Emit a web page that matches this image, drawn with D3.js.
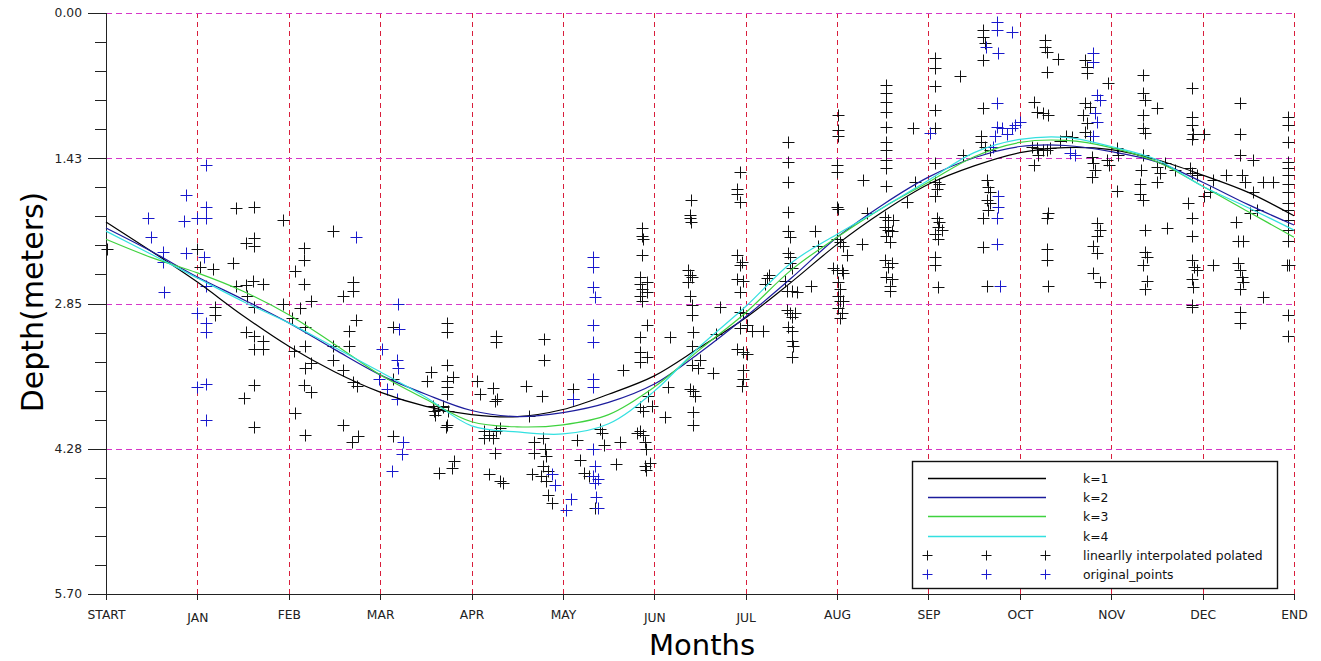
<!DOCTYPE html>
<html>
<head>
<meta charset="utf-8">
<script src="https://cdn.jsdelivr.net/npm/d3@7"></script>
<style>
    body { margin: 0; background: #fff; }
    svg { display: block; font-family: "DejaVu Sans", Verdana, sans-serif; }
</style>
</head>
<body>
<div id="chart"></div>
<script>
// Etiquetas del eje X (START, meses, END)
const monthLabels = ["START", "JAN", "FEB", "MAR", "APR", "MAY", "JUN", "JUL", "AUG", "SEP", "OCT", "NOV", "DEC", "END"];

// Marcas del eje Y (profundidad)
const yTickValues = [0, 1.425, 2.85, 4.275, 5.70];
const yTickLabels = ["0.00", "1.43", "2.85", "4.28", "5.70"];

// Curvas ajustadas, leídas cada medio mes
const curveX = [0, 0.5, 1, 1.5, 2, 2.5, 3, 3.5, 4, 4.5, 5, 5.5, 6, 6.5, 7, 7.5, 8, 8.5, 9, 9.5, 10, 10.5, 11, 11.5, 12, 12.5, 13];
const fitK1 = [2.05, 2.34, 2.64, 2.97, 3.27, 3.52, 3.72, 3.86, 3.94, 3.96, 3.89, 3.74, 3.56, 3.28, 2.99, 2.64, 2.27, 1.95, 1.68, 1.50, 1.37, 1.32, 1.34, 1.44, 1.59, 1.76, 1.99];
const fitK2 = [2.11, 2.34, 2.59, 2.81, 3.04, 3.30, 3.55, 3.74, 3.90, 3.96, 3.92, 3.82, 3.64, 3.33, 2.98, 2.60, 2.20, 1.88, 1.61, 1.42, 1.31, 1.30, 1.36, 1.46, 1.66, 1.88, 2.08];
const fitK3 = [2.22, 2.40, 2.55, 2.73, 2.96, 3.25, 3.55, 3.79, 4.01, 4.06, 4.04, 3.94, 3.67, 3.30, 2.94, 2.52, 2.20, 1.91, 1.66, 1.41, 1.27, 1.25, 1.32, 1.46, 1.70, 1.95, 2.20];
const fitK4 = [2.14, 2.37, 2.60, 2.83, 3.04, 3.28, 3.52, 3.77, 4.05, 4.11, 4.13, 4.03, 3.71, 3.27, 2.88, 2.45, 2.17, 1.91, 1.64, 1.37, 1.24, 1.22, 1.31, 1.44, 1.70, 1.91, 2.13];

// Puntos interpolados linealmente [mes, profundidad]
const interpolatedPoints = [
    [0.01,2.32],[1.42,1.91],[1.62,1.90],[1.94,2.03],[1.53,2.26],[1.62,2.21],[1.62,2.29],[1.00,2.32],[1.03,2.49],[1.17,2.51],[1.39,2.45],[1.42,2.68],[1.53,2.67],[1.61,2.63],[1.72,2.66],[1.62,2.88],[1.54,2.78],[1.19,2.88],[1.19,2.96],[1.53,3.13],[1.62,3.17],[1.72,3.22],[1.62,3.30],[1.72,3.30],[1.62,3.65],[1.51,3.78],[1.62,4.06],
    [1.94,2.85],[2.07,2.53],[2.17,2.31],[2.17,2.42],[2.17,2.66],[2.12,2.89],[2.24,2.83],[2.04,2.99],[2.18,3.08],[2.06,3.32],[2.18,3.27],[2.18,3.48],[2.24,3.43],[2.17,3.65],[2.24,3.72],[2.07,3.92],[2.18,4.14],
    [2.48,2.14],[2.70,2.64],[2.70,2.73],[2.59,2.78],[2.74,3.01],[2.66,3.12],[2.66,3.27],[2.48,3.27],[2.48,3.40],[2.59,3.50],[2.70,3.62],[2.75,3.66],[2.59,4.04],[2.76,4.15],[2.69,4.21],[3.14,4.15],[3.14,3.08],[3.14,3.59],
    [3.64,4.51],[3.79,4.46],[3.81,4.40],[3.72,4.06],[3.59,3.90],[3.69,3.86],[3.74,3.90],[4.26,3.81],[4.14,4.10],[4.19,4.14],[4.27,4.10],[4.31,4.07],[4.23,4.17],[4.14,4.17],[4.26,4.32],[4.19,4.52],[4.31,4.59],[4.34,4.61],
    [4.63,3.95],[4.68,4.21],[4.78,4.17],[4.80,4.28],[4.81,4.35],[4.68,4.32],[4.78,4.44],[4.84,4.49],[4.66,4.52],[4.76,4.54],[4.81,4.59],[4.84,4.73],[4.88,4.81],
    [5.15,4.19],[5.19,4.39],[5.23,4.51],[5.28,4.54],[5.35,4.86],[5.43,4.12],[5.45,4.24],[5.62,4.21],[5.58,4.42],
    [5.88,3.90],[5.81,4.12],[5.88,4.14],[5.90,4.21],[5.91,4.28],[5.90,4.44],[5.91,4.48],
    [3.73,3.04],[3.73,3.13],[4.27,3.17],[4.27,3.23],[4.79,3.20],[4.79,3.40],[3.56,3.52],[3.73,3.45],[3.80,3.57],[3.73,3.61],[3.73,3.67],[3.73,3.74],[3.51,3.61],[3.58,3.86],[3.63,3.89],[3.69,3.87],[3.60,3.94],[3.73,4.04],
    [4.06,3.61],[4.09,3.74],[4.23,3.68],[4.28,3.79],[4.60,3.66],[4.77,3.76],[5.11,3.69],[5.11,3.79],[5.41,4.08],[5.66,3.50],
    [5.84,3.18],[5.84,3.33],[5.84,3.42],[5.92,3.37],[5.92,3.06],[5.86,2.83],[5.84,3.87],[5.93,3.76],[5.98,3.86],[5.84,4.10],[5.95,4.41],
    [6.17,3.18],[6.15,3.67],[6.12,3.96],
    [6.41,2.86],[6.41,2.96],[6.42,3.13],[6.41,3.45],[6.42,3.71],[6.44,3.76],[6.42,3.91],[6.42,4.04],[6.39,3.69],
    [5.86,2.11],[5.86,2.19],[5.88,2.22],[5.86,2.37],[5.84,2.59],[5.84,2.66],[5.86,2.71],[5.84,2.78],[5.92,2.64],[5.92,2.74],
    [6.40,1.83],[6.39,1.98],[6.39,2.01],[6.40,2.05],[6.37,2.52],[6.39,2.57],[6.41,2.59],[6.37,2.64],[6.39,2.78],[6.41,3.27],[6.50,3.40],[6.48,3.48],[6.64,3.53],[6.72,2.88],[6.67,3.15],
    [6.94,1.56],[6.91,1.73],[6.91,1.78],[6.94,1.85],[6.91,2.37],[6.96,2.44],[6.94,2.47],[6.91,2.61],[6.97,2.63],[6.94,2.74],[6.94,2.93],[6.97,2.94],[7.01,3.06],[6.94,3.09],[7.07,3.12],[7.19,3.12],[6.91,3.30],[6.97,3.33],[7.01,3.35],[6.97,3.50],[6.97,3.59],[6.96,3.66],
    [7.23,2.60],[7.26,2.57],[7.21,2.66],
    [7.46,1.27],[7.46,1.46],[7.46,1.66],[7.46,1.95],[7.46,2.14],[7.48,2.20],[7.46,2.35],[7.48,2.39],[7.48,2.45],[7.51,2.50],[7.43,2.63],[7.45,2.73],[7.51,2.73],[7.56,2.74],[7.45,2.91],[7.48,2.94],[7.54,2.94],[7.51,2.98],[7.46,3.08],[7.51,3.12],[7.51,3.22],[7.52,3.27],[7.51,3.37],
    [7.72,2.68],[7.76,2.14],[7.79,2.29],
    [8.01,1.00],[8.01,1.15],[8.01,1.21],[8.00,1.49],[8.00,1.56],[8.00,1.90],[8.01,1.92],[8.00,2.22],[8.03,2.25],[8.06,2.29],[8.11,2.37],[7.95,2.50],[8.00,2.52],[8.05,2.52],[8.06,2.55],[8.01,2.64],[8.03,2.71],[8.01,2.78],[8.03,2.83],[8.06,2.83],[8.01,2.89],[8.05,2.94],[8.03,2.99],
    [8.27,2.27],[8.28,1.64],[8.33,1.96],
    [8.53,0.71],[8.53,0.78],[8.53,0.87],[8.53,0.97],[8.53,1.12],[8.53,1.27],[8.53,1.34],[8.53,1.44],[8.53,1.52],[8.53,1.70],[8.83,1.13],[8.85,1.66],[8.77,1.85],
    [8.52,2.00],[8.56,2.03],[8.61,2.03],[8.52,2.10],[8.56,2.13],[8.60,2.14],[8.54,2.19],[8.58,2.25],[8.52,2.42],[8.60,2.45],[8.56,2.49],[8.54,2.59],[8.60,2.61],[8.58,2.68],[8.58,2.73],
    [9.07,0.44],[9.07,0.54],[9.07,0.72],[9.07,0.95],[9.07,1.13],[9.07,1.47],[9.07,1.66],[9.12,1.68],[9.09,1.73],[9.07,1.80],[9.09,2.01],[9.12,2.05],[9.10,2.10],[9.15,2.13],[9.07,2.17],[9.10,2.22],[9.07,2.39],[9.07,2.47],[9.10,2.69],
    [9.34,0.62],[9.38,1.39],
    [9.60,0.17],[9.60,0.24],[9.62,0.29],[9.60,0.46],[9.60,0.93],[9.58,1.21],[9.58,1.27],[9.62,1.31],[9.67,1.34],[9.64,1.64],[9.65,1.71],[9.67,1.76],[9.64,1.83],[9.67,1.86],[9.65,1.93],[9.60,2.01],[9.60,2.30],[9.64,2.68],
    [10.27,0.26],[10.27,0.33],[10.30,0.38],[10.42,0.45],[10.30,0.58],[10.16,0.87],[10.19,0.97],[10.25,0.98],[10.31,1.00],[10.13,1.31],[10.19,1.32],[10.25,1.34],[10.30,1.34],[10.33,1.32],[10.20,1.39],[10.16,1.49],[10.44,1.26],[10.51,1.21],[10.57,1.22],[10.31,1.96],[10.30,2.01],[10.30,2.32],[10.30,2.42],[10.31,2.68],
    [10.71,0.46],[10.74,0.53],[10.74,0.59],[10.96,0.69],[10.71,0.88],[10.77,0.92],[10.69,1.00],[10.74,1.08],[10.71,1.17],[10.77,1.21],[10.79,1.41],[10.80,1.47],[10.82,1.54],[10.79,1.61],[10.95,1.44],[10.98,1.49],[10.84,2.06],[10.88,2.13],[10.84,2.19],[10.80,2.29],[10.84,2.35],[10.80,2.55],[10.88,2.64],
    [11.06,1.32],[11.07,1.39],[11.06,1.75],
    [11.35,0.61],[11.35,0.78],[11.37,0.85],[11.35,1.00],[11.35,1.13],[11.37,1.18],[11.50,0.93],[11.35,1.39],[11.33,1.54],[11.31,1.68],[11.31,1.78],[11.35,1.83],[11.37,2.13],[11.61,2.11],[11.37,2.34],[11.39,2.39],[11.35,2.47],[11.39,2.63],[11.37,2.71],[11.50,1.51],[11.53,1.57],[11.59,1.47],[11.50,1.66],[11.70,1.54],
    [11.88,0.74],[11.88,1.02],[11.88,1.10],[11.89,1.19],[11.88,1.24],[12.02,1.19],[11.86,1.52],[11.88,1.57],[11.94,1.59],[11.84,1.86],[11.88,2.01],[11.88,2.19],[11.88,2.42],[11.91,2.49],[11.94,2.52],[11.88,2.61],[11.89,2.69],[11.88,2.86],[11.88,2.88],
    [12.11,2.47],[12.11,1.64],[12.02,1.80],[12.08,1.76],[12.26,1.59],
    [12.41,0.88],[12.41,1.19],[12.41,1.39],[12.43,1.59],[12.46,1.66],[12.55,1.44],[12.66,1.66],[12.77,1.66],[12.55,1.76],[12.60,1.93],[12.52,1.96],[12.37,2.05],[12.39,2.24],[12.44,2.24],[12.39,2.45],[12.41,2.52],[12.43,2.59],[12.44,2.64],[12.41,2.71],[12.66,2.79],[12.41,2.93],[12.41,3.04],
    [12.93,1.02],[12.93,1.10],[12.93,1.27],[12.93,1.46],[12.93,1.52],[12.93,1.59],[12.93,1.68],[12.93,1.76],[12.93,1.86],[12.93,1.93],[12.93,2.03],[12.93,2.13],[12.93,2.24],[12.92,2.47],[12.95,2.47],[12.93,2.96],[12.93,3.17]
];

// Puntos originales [mes, profundidad]
const originalPoints = [
    [1.09,1.49],[0.88,1.79],[0.46,2.01],[0.85,2.04],[1.00,2.01],[1.09,1.90],[1.09,2.01],[0.49,2.20],[0.62,2.34],[0.62,2.44],[0.88,2.35],[1.07,2.39],[0.63,2.74],[1.09,2.68],[1.00,2.94],[1.09,3.04],[1.09,3.13],[1.00,3.67],[1.09,3.64],[1.09,3.99],
    [2.74,2.20],[3.19,2.85],[3.21,3.10],[3.02,3.30],[3.18,3.40],[3.19,3.48],[2.99,3.59],[3.07,3.69],[3.18,3.79],[3.25,4.21],[3.24,4.33],[3.13,4.49],
    [5.33,2.39],[5.33,2.49],[5.33,2.69],[5.35,2.79],[5.33,3.06],[5.33,3.23],[5.33,3.59],[5.33,3.67],[5.11,3.79],[4.88,4.52],[4.91,4.63],[5.09,4.77],[5.03,4.88],[5.33,4.28],[5.35,4.44],[5.33,4.54],[5.38,4.57],[5.35,4.61],[5.36,4.75],[5.38,4.86],
    [9.75,0.09],[9.75,0.17],[9.91,0.19],[9.63,0.33],[9.76,0.39],[9.75,0.88],[9.75,1.12],[9.81,1.13],[9.91,1.13],[9.95,1.10],[10.00,1.07],[9.73,1.21],[9.86,1.19],[9.71,1.31],[9.76,1.80],[9.76,1.90],[9.75,2.01],[9.75,2.27],[9.78,2.68],[9.02,1.18],
    [10.80,0.39],[10.80,0.48],[10.84,0.80],[10.88,0.85],[10.82,0.98],[10.84,1.07],[10.80,1.21],[10.55,1.37],[10.60,1.39]
];

const fitSeries = [
    { label: "k=1", values: fitK1, color: "#000000" },
    { label: "k=2", values: fitK2, color: "#1c1c9c" },
    { label: "k=3", values: fitK3, color: "#3fd23f" },
    { label: "k=4", values: fitK4, color: "#33e0e0" }
];
const pointSeries = [
    { label: "linearlly interpolated polated", values: interpolatedPoints, color: "#111111" },
    { label: "original_points", values: originalPoints, color: "#1a1acc" }
];

const width = 1321;
const height = 661;

const x = d3.scaleLinear().domain([0, 13]).range([106, 1294]);
const y = d3.scaleLinear().domain([0, 5.70]).range([13, 594]);

const svg = d3.select("#chart").append("svg")
    .attr("width", width)
    .attr("height", height);

svg.append("rect").attr("width", width).attr("height", height).attr("fill", "#fff");

/**
 * Dibuja la rejilla punteada (meses en rojo, profundidades en magenta).
 */
function drawGrid() {
    const grid = svg.append("g").attr("shape-rendering", "crispEdges");

    grid.selectAll("line.v")
        .data(d3.range(1, monthLabels.length))
        .join("line")
        .attr("class", "v")
        .attr("x1", d => Math.round(x(d)) + 0.5)
        .attr("x2", d => Math.round(x(d)) + 0.5)
        .attr("y1", y(0))
        .attr("y2", y(5.70))
        .attr("stroke", "#d81e3c")
        .attr("stroke-dasharray", "5,4");

    grid.selectAll("line.h")
        .data(yTickValues.slice(0, 4))
        .join("line")
        .attr("class", "h")
        .attr("x1", x(0))
        .attr("x2", x(13))
        .attr("y1", d => Math.round(y(d)) + 0.5)
        .attr("y2", d => Math.round(y(d)) + 0.5)
        .attr("stroke", "#d636c8")
        .attr("stroke-dasharray", "6,4");
}

/**
 * Dibuja los ejes con sus marcas y títulos.
 */
function drawAxes() {
    const xAxis = d3.axisBottom(x)
        .tickValues(d3.range(0, monthLabels.length))
        .tickFormat(i => monthLabels[i])
        .tickSize(6)
        .tickPadding(10);

    const gx = svg.append("g")
        .attr("transform", `translate(0,${y(5.70)})`)
        .call(xAxis);
    gx.selectAll("text")
        .attr("font-size", 12.3)
        .attr("font-family", "DejaVu Sans, sans-serif")
        .attr("fill", "#222")
        .attr("dy", d => monthLabels[d].startsWith("J") ? "1.0em" : "0.71em");

    // marcas menores del eje Y
    svg.append("g")
        .attr("transform", `translate(${x(0)},0)`)
        .call(d3.axisLeft(y).tickValues(d3.range(0, 21).map(i => i * 0.285)).tickSize(11).tickFormat(""))
        .call(g => g.select(".domain").remove());

    const yAxis = d3.axisLeft(y)
        .tickValues(yTickValues)
        .tickFormat((d, i) => yTickLabels[i])
        .tickSize(18)
        .tickPadding(6);

    const gy = svg.append("g")
        .attr("transform", `translate(${x(0)},0)`)
        .call(yAxis);
    gy.selectAll("text")
        .attr("font-size", 12.3)
        .attr("font-family", "DejaVu Sans, sans-serif")
        .attr("fill", "#222");

    svg.selectAll(".domain, .tick line").attr("stroke", "#222").attr("shape-rendering", "crispEdges");

    svg.append("text")
        .attr("x", 702)
        .attr("y", 655)
        .attr("text-anchor", "middle")
        .attr("font-size", 29)
        .text("Months");

    svg.append("text")
        .attr("transform", "translate(43,302) rotate(-90)")
        .attr("text-anchor", "middle")
        .attr("font-size", 30)
        .text("Depth(meters)");
}

/**
 * Dibuja los puntos como cruces.
 * @param {Object} series - Serie con sus valores y color.
 */
function drawPoints(series) {
    svg.append("g")
        .selectAll("path")
        .data(series.values)
        .join("path")
        .attr("transform", d => `translate(${Math.round(x(d[0])) + 0.5},${Math.round(y(d[1])) + 0.5})`)
        .attr("d", "M-6,0H6M0,-6V6")
        .attr("stroke", series.color)
        .attr("stroke-width", 1)
        .attr("fill", "none");
}

/**
 * Dibuja las curvas ajustadas.
 */
function drawCurves() {
    const line = d3.line()
        .x((d, i) => x(curveX[i]))
        .y(d => y(d))
        .curve(d3.curveCatmullRom.alpha(0.5));

    svg.append("g")
        .selectAll("path")
        .data(fitSeries)
        .join("path")
        .attr("d", s => line(s.values))
        .attr("fill", "none")
        .attr("stroke", s => s.color)
        .attr("stroke-width", 1.2);
}

/**
 * Dibuja la leyenda en la esquina inferior derecha.
 */
function drawLegend() {
    const legend = svg.append("g");
    legend.append("rect")
        .attr("x", 912.5).attr("y", 461.5)
        .attr("width", 365).attr("height", 127)
        .attr("fill", "#fff")
        .attr("stroke", "#111")
        .attr("stroke-width", 1.4);

    const items = fitSeries.concat(pointSeries);
    items.forEach((item, i) => {
        const cy = Math.round(478 + i * 19.2) + 0.5;
        if (i < fitSeries.length) {
            legend.append("line")
                .attr("x1", 928).attr("x2", 1046)
                .attr("y1", cy).attr("y2", cy)
                .attr("stroke", item.color)
                .attr("stroke-width", 1.3);
        } else {
            [927.5, 986.5, 1045.5].forEach(px => {
                legend.append("path")
                    .attr("transform", `translate(${px},${cy})`)
                    .attr("d", "M-5,0H5M0,-5V5")
                    .attr("stroke", item.color)
                    .attr("fill", "none");
            });
        }
        legend.append("text")
            .attr("x", 1083)
            .attr("y", cy)
            .attr("dy", "0.35em")
            .attr("font-size", 12.4)
            .attr("fill", "#111")
            .text(item.label);
    });
}

drawGrid();
drawAxes();
pointSeries.forEach(drawPoints);
drawCurves();
drawLegend();
</script>
</body>
</html>
